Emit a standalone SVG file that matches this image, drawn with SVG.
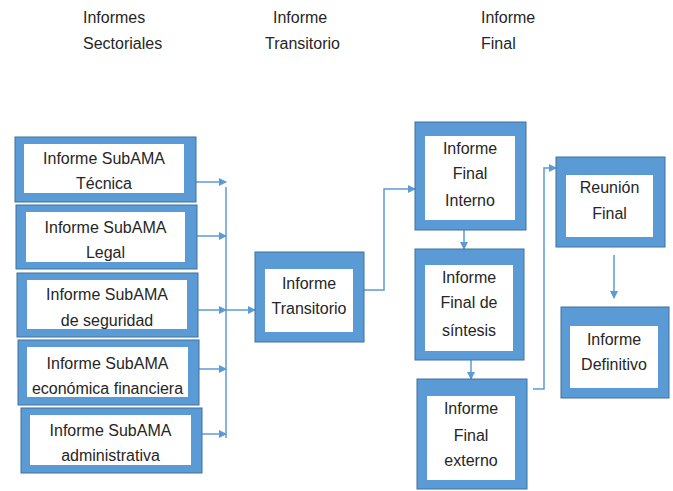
<svg xmlns="http://www.w3.org/2000/svg" width="673" height="491" viewBox="0 0 673 491">
<defs>
<marker id="ah" markerWidth="8" markerHeight="8" refX="7" refY="4" orient="auto" markerUnits="userSpaceOnUse">
<path d="M0,0 L8,4 L0,8 Z" fill="#5B9BD5"/>
</marker>
</defs>
<style>
.o{fill:#5B9BD5;stroke:#41719C;stroke-width:1}
.i{fill:#ffffff}
.t{font-family:"Liberation Sans",Arial,sans-serif;font-size:16px;fill:#262626;text-anchor:middle}
.h{font-family:"Liberation Sans",Arial,sans-serif;font-size:16px;fill:#262626}
.c{fill:none;stroke:#5B9BD5;stroke-width:1.5}
.a{marker-end:url(#ah)}
</style>
<rect width="673" height="491" fill="#ffffff"/>
<g id="headers">
<text class="h" x="83" y="23">Informes</text>
<text class="h" x="83" y="49">Sectoriales</text>
<text class="h" x="273" y="23">Informe</text>
<text class="h" x="265" y="49">Transitorio</text>
<text class="h" x="481" y="23">Informe</text>
<text class="h" x="481" y="49">Final</text>
</g>
<g id="connectors">
<line class="c a" x1="196" y1="182" x2="226" y2="182"/>
<line class="c a" x1="197" y1="236" x2="226" y2="236"/>
<line class="c a" x1="198" y1="310" x2="226" y2="310"/>
<line class="c a" x1="226" y1="310" x2="255" y2="310"/>
<line class="c a" x1="199" y1="369" x2="226" y2="369"/>
<line class="c a" x1="202" y1="434" x2="226" y2="434"/>
<line class="c" x1="226" y1="187" x2="226" y2="438"/>
<path class="c a" d="M364,290 H384 V189 H415"/>
<path class="c a" d="M464,230 V249"/>
<path class="c a" d="M471,360 V379"/>
<path class="c a" d="M533,389 H544 V168 H556"/>
<path class="c a" d="M614,255 V298"/>
</g>
<g id="n1"><rect class="o" x="15" y="137" width="181" height="65"/><rect class="i" x="24" y="144" width="160" height="49"/>
<text class="t" x="104" y="164">Informe SubAMA</text><text class="t" x="104" y="189">Técnica</text></g>
<g id="n2"><rect class="o" x="16" y="205" width="181" height="64"/><rect class="i" x="26" y="212" width="159" height="50"/>
<text class="t" x="105.5" y="233">Informe SubAMA</text><text class="t" x="105.5" y="258">Legal</text></g>
<g id="n3"><rect class="o" x="17" y="273" width="181" height="64"/><rect class="i" x="27" y="280" width="160" height="49"/>
<text class="t" x="107" y="300">Informe SubAMA</text><text class="t" x="107" y="326">de seguridad</text></g>
<g id="n4"><rect class="o" x="18" y="340" width="181" height="65"/><rect class="i" x="27" y="347" width="161" height="50"/>
<text class="t" x="107.5" y="369">Informe SubAMA</text><text class="t" x="107.5" y="394">económica financiera</text></g>
<g id="n5"><rect class="o" x="21" y="408" width="181" height="65"/><rect class="i" x="30" y="415" width="161" height="50"/>
<text class="t" x="110.5" y="436">Informe SubAMA</text><text class="t" x="110.5" y="461">administrativa</text></g>
<g id="n6"><rect class="o" x="255" y="252" width="109" height="90"/><rect class="i" x="265" y="269" width="88" height="63"/>
<text class="t" x="309" y="289">Informe</text><text class="t" x="309" y="314">Transitorio</text></g>
<g id="n7"><rect class="o" x="415" y="122" width="111" height="108"/><rect class="i" x="425" y="136" width="90" height="84"/>
<text class="t" x="470" y="154">Informe</text><text class="t" x="470" y="179">Final</text><text class="t" x="470" y="206">Interno</text></g>
<g id="n8"><rect class="o" x="415" y="249" width="109" height="111"/><rect class="i" x="425" y="265" width="88" height="86"/>
<text class="t" x="469" y="283">Informe</text><text class="t" x="469" y="308">Final de</text><text class="t" x="469" y="336">síntesis</text></g>
<g id="n9"><rect class="o" x="417" y="379" width="110" height="110"/><rect class="i" x="427" y="396" width="88" height="84"/>
<text class="t" x="471" y="414">Informe</text><text class="t" x="471" y="441">Final</text><text class="t" x="471" y="466">externo</text></g>
<g id="n10"><rect class="o" x="556" y="157" width="109" height="90"/><rect class="i" x="566" y="175" width="87" height="62"/>
<text class="t" x="609.5" y="193">Reunión</text><text class="t" x="609.5" y="219">Final</text></g>
<g id="n11"><rect class="o" x="561" y="307" width="108" height="91"/><rect class="i" x="570" y="326" width="88" height="62"/>
<text class="t" x="614" y="345">Informe</text><text class="t" x="614" y="370">Definitivo</text></g>
</svg>
